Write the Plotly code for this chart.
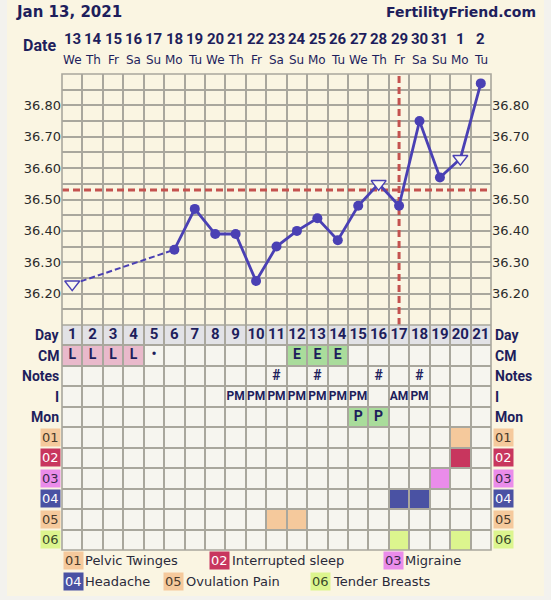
import plotly.graph_objects as go

# ---------------- data ----------------
chart_title = "Jan 13, 2021"
site_name = "FertilityFriend.com"
dates = ["13", "14", "15", "16", "17", "18", "19", "20", "21", "22", "23",
         "24", "25", "26", "27", "28", "29", "30", "31", "1", "2"]
weekdays = ["We", "Th", "Fr", "Sa", "Su", "Mo", "Tu", "We", "Th", "Fr", "Sa",
            "Su", "Mo", "Tu", "We", "Th", "Fr", "Sa", "Su", "Mo", "Tu"]
cycle_days = list(range(1, 22))
temps = [36.23, None, None, None, None, 36.34, 36.47, 36.39, 36.39, 36.24, 36.35,
         36.40, 36.44, 36.37, 36.48, 36.55, 36.48, 36.75, 36.57, 36.63, 36.87]
open_marker_days = [1, 16, 20]
coverline = 36.53
ovulation_day = 17
temp_labels = [36.20, 36.30, 36.40, 36.50, 36.60, 36.70, 36.80]
temp_range = [36.10, 36.90]

cm = ["L", "L", "L", "L", "•", "", "", "", "", "", "", "E", "E", "E", "", "", "", "", "", "", ""]
notes = ["", "", "", "", "", "", "", "", "", "", "#", "", "#", "", "", "#", "", "#", "", "", ""]
intercourse = ["", "", "", "", "", "", "", "", "PM", "PM", "PM", "PM", "PM", "PM", "PM", "", "AM", "PM", "", "", ""]
monitor = ["", "", "", "", "", "", "", "", "", "", "", "", "", "", "P", "P", "", "", "", "", ""]
text_rows = ["Day", "CM", "Notes", "I", "Mon"]
symptom_codes = ["01", "02", "03", "04", "05", "06"]
symptom_names = ["Pelvic Twinges", "Interrupted sleep", "Migraine", "Headache", "Ovulation Pain", "Tender Breasts"]
symptom_days = {"01": [20], "02": [20], "03": [19], "04": [17, 18], "05": [11, 12], "06": [17, 20]}

# ---------------- style ----------------
W, H = 551, 600
ML, MR, MT, MB = 62, 60, 74, 50
NAVY = "#1e1e5c"
LINE = "#4a40b4"
RED = "#c4524f"
GRID = "#a9a79d"
OUTER = "#f3f2ee"
PAGE = "#faf5e2"
TEMP_BG = "#f8f2da"
CELL_BG = "#f6f5ef"
DAY_BG = "#e2e2e6"
NARROW = "Roboto, Liberation Sans, sans-serif"
REG = "DejaVu Sans, Verdana, sans-serif"
code_bg = {"01": "#f5c99c", "02": "#c8365e", "03": "#ea8cea", "04": "#4a52a3", "05": "#f5c99c", "06": "#dcf58e"}
code_fg = {"01": "#4a3a2a", "02": "#ffffff", "03": "#3a2a4a", "04": "#ffffff", "05": "#4a3a2a", "06": "#3a4a2a"}
cell_fill = {"L": "#e9b9cb", "E": "#a9dc9b", "P": "#a9dc9b"}
row_font_size = {"Day": 15, "CM": 14, "Notes": 14, "I": 12, "Mon": 14}

PW = W - ML - MR
PH = H - MT - MB
TABLE_FRAC = 225 / PH


def px(xp):
    return (xp - ML) / PW


def py(yp):
    return (MT + PH - yp) / PH


n_rows = len(text_rows) + len(symptom_codes)

fig = go.Figure()

# temperature lines
pre = [(d, t) for d, t in zip(cycle_days, temps) if d <= 6]
fig.add_trace(go.Scatter(x=[d for d, t in pre], y=[t for d, t in pre], mode="lines",
                         connectgaps=True, line=dict(color=LINE, width=2, dash="6px,3px"),
                         hoverinfo="skip", showlegend=False))
post = [(d, t) for d, t in zip(cycle_days, temps) if d >= 6]
fig.add_trace(go.Scatter(x=[d for d, t in post], y=[t for d, t in post], mode="lines",
                         line=dict(color=LINE, width=2.8), hoverinfo="skip", showlegend=False))
filled = [(d, t) for d, t in zip(cycle_days, temps) if t is not None and d not in open_marker_days]
fig.add_trace(go.Scatter(x=[d for d, t in filled], y=[t for d, t in filled], mode="markers",
                         marker=dict(color=LINE, size=10, symbol="circle"),
                         hoverinfo="skip", showlegend=False))
opened = [(d, t) for d, t in zip(cycle_days, temps) if d in open_marker_days]
fig.add_trace(go.Scatter(x=[d for d, t in opened], y=[t for d, t in opened], mode="markers",
                         marker=dict(color="#fbf8ee", size=13, symbol="triangle-down",
                                     line=dict(color=LINE, width=1.4)),
                         hoverinfo="skip", showlegend=False))
# dummy for right axis
fig.add_trace(go.Scatter(x=[cycle_days[0]], y=[temps[0]], yaxis="y3", mode="markers",
                         marker=dict(opacity=0), hoverinfo="skip", showlegend=False))

# table text rows
row_values = {"Day": [str(d) for d in cycle_days], "CM": cm, "Notes": notes, "I": intercourse, "Mon": monitor}
for r, name in enumerate(text_rows):
    vals = row_values[name]
    xs = [d for d, v in zip(cycle_days, vals) if v]
    ts = [v for v in vals if v]
    fig.add_trace(go.Scatter(x=xs, y=[r + 0.5] * len(xs), yaxis="y2", mode="text", text=ts,
                             textposition="middle center", cliponaxis=False,
                             textfont=dict(family=NARROW, size=row_font_size[name],
                                           color=NAVY, weight="bold"),
                             hoverinfo="skip", showlegend=False))

shapes = []
# page frame
shapes.append(dict(type="rect", xref="paper", yref="paper", x0=px(7), x1=px(544), y0=py(596), y1=py(0),
                   fillcolor=PAGE, line=dict(width=0), layer="below"))
# table backgrounds
shapes.append(dict(type="rect", xref="x", yref="y2", x0=0.5, x1=21.5, y0=1, y1=n_rows,
                   fillcolor=CELL_BG, line=dict(width=0), layer="below"))
shapes.append(dict(type="rect", xref="x", yref="y2", x0=0.5, x1=21.5, y0=0, y1=1,
                   fillcolor=DAY_BG, line=dict(width=0), layer="below"))
# coloured text cells
for r, name in enumerate(text_rows):
    for d, v in zip(cycle_days, row_values[name]):
        if v in cell_fill and name != "Day":
            shapes.append(dict(type="rect", xref="x", yref="y2", x0=d - 0.5, x1=d + 0.5,
                               y0=r, y1=r + 1, fillcolor=cell_fill[v], line=dict(width=0), layer="below"))
# symptom cells
for i, code in enumerate(symptom_codes):
    r = len(text_rows) + i
    for d in symptom_days[code]:
        shapes.append(dict(type="rect", xref="x", yref="y2", x0=d - 0.5, x1=d + 0.5,
                           y0=r, y1=r + 1, fillcolor=code_bg[code], line=dict(width=0), layer="below"))
# coverline & ovulation line
shapes.append(dict(type="line", xref="x", yref="y", x0=0.5, x1=21.5, y0=coverline, y1=coverline,
                   line=dict(color=RED, width=3, dash="7px,4px"), layer="between"))
shapes.append(dict(type="line", xref="x", yref="y", x0=ovulation_day, x1=ovulation_day,
                   y0=temp_range[0], y1=temp_range[1],
                   line=dict(color=RED, width=3, dash="7px,4px"), layer="between"))
# frame
shapes.append(dict(type="rect", xref="paper", yref="paper", x0=0, x1=1, y0=0, y1=1,
                   line=dict(color=GRID, width=1.6), layer="above"))
shapes.append(dict(type="line", xref="paper", yref="paper", x0=0, x1=1, y0=TABLE_FRAC, y1=TABLE_FRAC,
                   line=dict(color=GRID, width=1.6), layer="above"))

ann = []
ann.append(dict(text=chart_title, xref="paper", yref="paper", x=px(14), y=py(12),
                xanchor="left", yanchor="middle", showarrow=False,
                font=dict(family=REG, size=15, color=NAVY, weight="bold")))
ann.append(dict(text=site_name, xref="paper", yref="paper", x=px(538), y=py(12),
                xanchor="right", yanchor="middle", showarrow=False,
                font=dict(family=REG, size=14, color=NAVY, weight="bold")))
ann.append(dict(text="Date", xref="paper", yref="paper", x=px(58), y=py(45),
                xanchor="right", yanchor="middle", showarrow=False,
                font=dict(family=NARROW, size=16, color=NAVY, weight="bold")))
for d, ds, wd in zip(cycle_days, dates, weekdays):
    ann.append(dict(text=ds, xref="x", yref="paper", x=d, y=py(39), xanchor="center", yanchor="middle",
                    showarrow=False, font=dict(family=NARROW, size=15, color=NAVY, weight="bold")))
    ann.append(dict(text=wd, xref="x", yref="paper", x=d, y=py(60), xanchor="center", yanchor="middle",
                    showarrow=False, font=dict(family=REG, size=12, color=NAVY)))
for r, name in enumerate(text_rows):
    for xx, anc in ((px(61), "right"), (px(493), "left")):
        ann.append(dict(text=name, xref="paper", yref="y2", x=xx, y=r + 0.5, xanchor=anc, yanchor="middle",
                        showarrow=False, font=dict(family=NARROW, size=14, color=NAVY, weight="bold")))
for i, code in enumerate(symptom_codes):
    r = len(text_rows) + i
    for xx, anc in ((px(60.5), "right"), (px(492.5), "left")):
        ann.append(dict(text=code, xref="paper", yref="y2", x=xx, y=r + 0.5, xanchor=anc, yanchor="middle",
                        showarrow=False, bgcolor=code_bg[code], borderpad=1,
                        font=dict(family=REG, size=13, color=code_fg[code])))
# legend
legend_pos = [(62.7, 560.5), (209.3, 560.5), (382.7, 560.5), (62.7, 581), (163.3, 581), (310, 581)]
for code, name, (lx, ly) in zip(symptom_codes, symptom_names, legend_pos):
    ann.append(dict(text=code, xref="paper", yref="paper", x=px(lx), y=py(ly), xanchor="left", yanchor="middle",
                    showarrow=False, bgcolor=code_bg[code], borderpad=1,
                    font=dict(family=REG, size=13, color=code_fg[code])))
    ann.append(dict(text=name, xref="paper", yref="paper", x=px(lx + 20.5), y=py(ly), xanchor="left",
                    yanchor="middle", showarrow=False, font=dict(family=REG, size=13, color="#2a2a3a")))

grid_vals = [round(temp_range[0] + 0.05 * k, 2) for k in range(1, 16)]
grid_text = [("%.2f" % v) if any(abs(v - t) < 1e-6 for t in temp_labels) else "" for v in grid_vals]

fig.update_layout(
    width=W, height=H, margin=dict(l=ML, r=MR, t=MT, b=MB, pad=0),
    paper_bgcolor=OUTER, plot_bgcolor=TEMP_BG, hovermode=False, showlegend=False,
    xaxis=dict(range=[0.5, 21.5], tickvals=[d + 0.5 for d in cycle_days[:-1]], showticklabels=False,
               ticks="", showgrid=True, gridcolor=GRID, gridwidth=1.6, zeroline=False, anchor="y2",
               fixedrange=True),
    yaxis=dict(domain=[TABLE_FRAC, 1], range=temp_range, tickvals=grid_vals, ticktext=grid_text,
               ticks="", showgrid=True, gridcolor=GRID, gridwidth=1.6, zeroline=False, anchor="x",
               tickfont=dict(family=REG, size=13, color="#2b2b2b"), automargin=False, fixedrange=True),
    yaxis3=dict(overlaying="y", side="right", range=temp_range, tickvals=temp_labels,
                ticktext=["%.2f" % v for v in temp_labels], ticks="", showgrid=False, zeroline=False,
                anchor="x", tickfont=dict(family=REG, size=13, color="#2b2b2b"), automargin=False,
                fixedrange=True),
    yaxis2=dict(domain=[0, TABLE_FRAC], range=[n_rows, 0], tickvals=list(range(1, n_rows)),
                showticklabels=False, ticks="", showgrid=True, gridcolor=GRID, gridwidth=1.6,
                zeroline=False, anchor="x", fixedrange=True),
    shapes=shapes, annotations=ann,
)

fig.write_html("out.html", config={"displayModeBar": False},
               post_script="document.body.style.margin='0';document.body.style.overflow='hidden';")
